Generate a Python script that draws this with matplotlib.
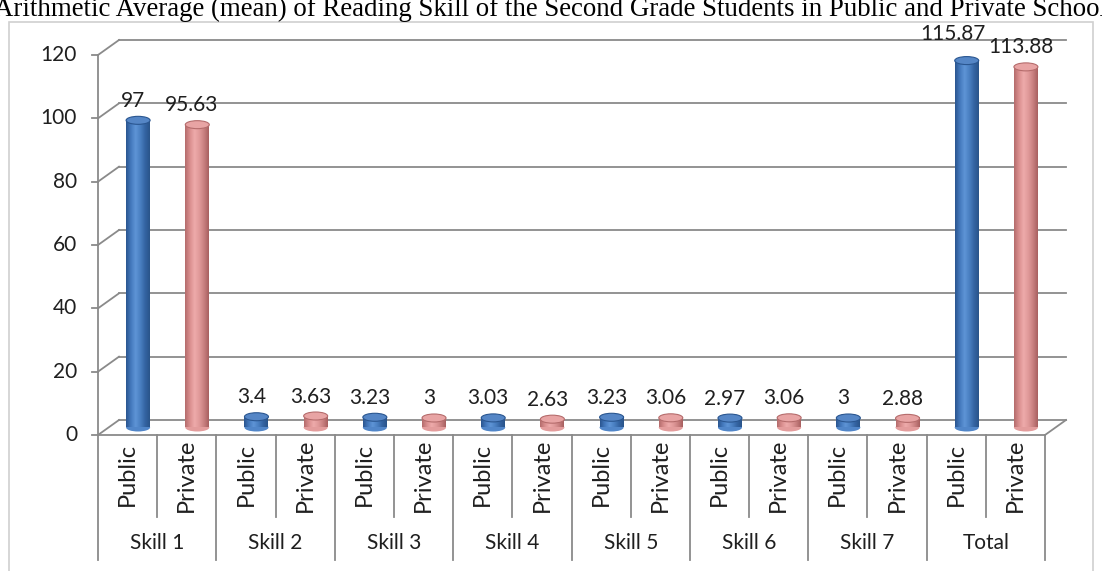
import numpy as np
import matplotlib.pyplot as plt
from matplotlib.patches import Ellipse, Rectangle
from matplotlib.colors import LinearSegmentedColormap

groups = ["Skill 1", "Skill 2", "Skill 3", "Skill 4", "Skill 5", "Skill 6", "Skill 7", "Total"]
schools = ["Public", "Private"]
public_vals = [97, 3.4, 3.23, 3.03, 3.23, 2.97, 3, 115.87]
private_vals = [95.63, 3.63, 3, 2.63, 3.06, 3.06, 2.88, 113.88]
value_labels_public = ["97", "3.4", "3.23", "3.03", "3.23", "2.97", "3", "115.87"]
value_labels_private = ["95.63", "3.63", "3", "2.63", "3.06", "3.06", "2.88", "113.88"]
yticks = [0, 20, 40, 60, 80, 100, 120]
title = ("Arithmetic Average (mean) of Reading Skill of the Second Grade "
         "Students in Public and Private Schools")

W, H = 1102, 571
fig = plt.figure(figsize=(W / 100, H / 100), dpi=100)
plt.rcParams["font.family"] = ["Lato", "DejaVu Sans"]

# axes in pixel coordinates (front plane of the 3D chart)
left_px, right_px, zero_px, top_px = 98, 1045, 435, 55
ax = fig.add_axes([left_px / W, (H - zero_px) / H,
                   (right_px - left_px) / W, (zero_px - top_px) / H])
n = len(groups) * 2
ax.set_xlim(0, n)
ax.set_ylim(0, 120)
ax.axis("off")

px_x = (right_px - left_px) / n
px_y = (zero_px - top_px) / 120.0
ox = 21 / px_x   # depth offset
oy = 15 / px_y

grid_c = "#8a8a8a"
text_c = "#1f1f1f"

# chart border
fig.patches.append(Rectangle((9 / W, -0.01), (1093 - 9) / W, (H - 22) / H + 0.01,
                             transform=fig.transFigure, fill=False,
                             edgecolor="#d0d0d0", lw=1.2))

# title (cut at the edges like the source)
fig.text(-6 / W, 1 - 16 / H, title, family="Liberation Serif", fontsize=19.4,
         ha="left", va="baseline", color="black")

# gridlines on back wall and left wall diagonals
for v in yticks:
    ax.plot([0, ox], [v, v + oy], color=grid_c, lw=1.3, clip_on=False)
    ax.plot([ox, n + ox], [v + oy, v + oy], color=grid_c, lw=1.3, clip_on=False)
    ax.plot([-6 / px_x, 0], [v, v], color=grid_c, lw=1.3, clip_on=False)
    ax.text(-21 / px_x, v, str(v), ha="right", va="center", fontsize=15, color=text_c)

# floor
ax.plot([0, n], [0, 0], color=grid_c, lw=1.3, clip_on=False)
ax.plot([n, n + ox], [0, oy], color=grid_c, lw=1.3, clip_on=False)

# front axis and category table
ax.plot([0, 0], [0, 120], color=grid_c, lw=1.3, clip_on=False)
sub_bottom = -(517 - zero_px) / px_y
grp_bottom = -(560 - zero_px) / px_y
for i in range(n + 1):
    bottom = grp_bottom if i % 2 == 0 else sub_bottom
    ax.plot([i, i], [0, bottom], color=grid_c, lw=1.3, clip_on=False)

sub_y = -(475 - zero_px) / px_y
grp_y = -(543 - zero_px) / px_y
for g, name in enumerate(groups):
    for s, school in enumerate(schools):
        ax.text(2 * g + s + 0.5, sub_y, school, rotation=90, ha="center", va="center",
                fontsize=17, color=text_c)
    ax.text(2 * g + 1, grp_y, name, ha="center", va="center", fontsize=15, color=text_c)

# cylinders
blue_cm = LinearSegmentedColormap.from_list(
    "b", ["#2a5690", "#4479bd", "#5e94d6", "#4a80c2", "#3464a3", "#2a548a"])
pink_cm = LinearSegmentedColormap.from_list(
    "p", ["#b56c6c", "#d98e8e", "#eeaaaa", "#e09a9a", "#c98080", "#a86060"])
tops = ["#5586c6", "#e8a4a4"]
grad = np.linspace(0, 1, 64).reshape(1, -1)
bw = 24 / px_x
eh = 8 / px_y

for s, (vals, cm) in enumerate([(public_vals, blue_cm), (private_vals, pink_cm)]):
    for g, v in enumerate(vals):
        xc = 2 * g + s + 0.5 + ox / 2
        y0 = oy / 2
        y1 = v + oy / 2
        ax.add_patch(Ellipse((xc, y0), bw, eh, facecolor=cm(0.3), edgecolor="none",
                             zorder=3, clip_on=False))
        ax.imshow(grad, cmap=cm, extent=[xc - bw / 2, xc + bw / 2, y0, y1],
                  aspect="auto", zorder=3, clip_on=False, interpolation="bilinear")
        ax.add_patch(Ellipse((xc, y1), bw, eh, facecolor=tops[s],
                             edgecolor=cm(0.0), lw=0.8, zorder=4, clip_on=False))

ax.set_xlim(0, n)
ax.set_ylim(0, 120)

# value labels
label_off = 27 / px_y
for s, labels in enumerate([value_labels_public, value_labels_private]):
    vals = public_vals if s == 0 else private_vals
    for g, (v, lab) in enumerate(zip(vals, labels)):
        x = 2 * g + s + 0.5 + ox / 4
        y = v + label_off
        if groups[g] == "Total" and s == 0:
            # nudged so it does not collide with its neighbour
            x -= 9 / px_x
            y += 7 / px_y
        ax.text(x, y, lab, ha="center", va="center", fontsize=15, color=text_c,
                zorder=5, clip_on=False)

fig.savefig("out.png", dpi=100)
